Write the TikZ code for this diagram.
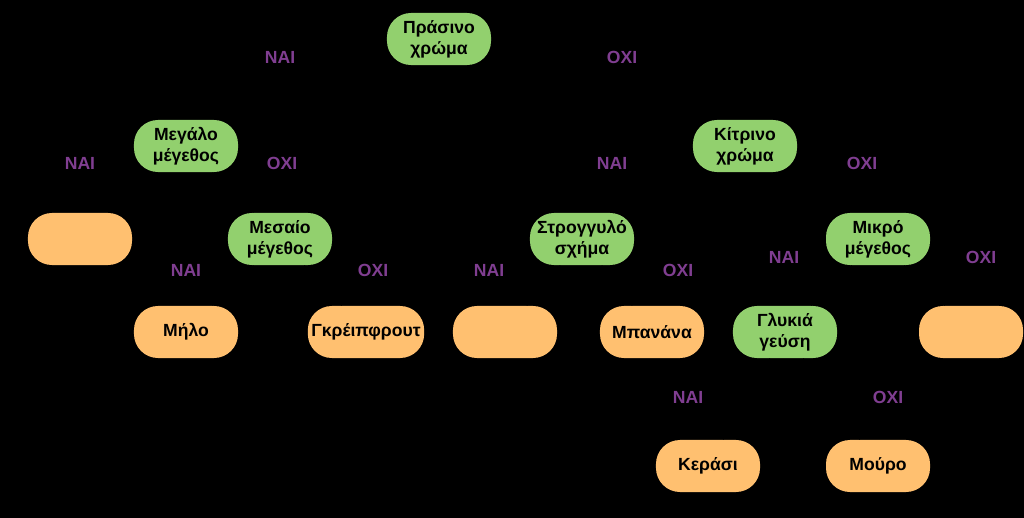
\documentclass[tikz,border=0pt]{standalone}
\usepackage{fontspec}
\setmainfont{Liberation Sans}
\usepackage{tikz}
\usetikzlibrary{positioning}

\definecolor{leafgreen}{RGB}{146,208,110}
\definecolor{fruitorange}{RGB}{255,192,112}
\definecolor{answerpurple}{RGB}{128,62,145}

\tikzset{
    question/.style={fill=leafgreen, rounded corners=0.6cm, minimum width=2.6cm,
        minimum height=1.3cm, inner xsep=2.5pt, align=center,
        font=\fontsize{12.5}{15}\selectfont\bfseries},
    fruit/.style={question, fill=fruitorange},
    reply/.style={text=answerpurple, font=\fontsize{12.5}{15}\selectfont\bfseries},
    link/.style={black, thin}
}

\begin{document}
\begin{tikzpicture}[x=0.025cm, y=-0.025cm]

% Background
\fill[black] (0,0) rectangle (1024,518);
\useasboundingbox (0,0) rectangle (1024,518);

% Questions
\node[question] (green) at (439,39) {Πράσινο\\χρώμα};
\node[question] (big) at (186,146) {Μεγάλο\\μέγεθος};
\node[question] (yellow) at (745,146) {Κίτρινο\\χρώμα};
\node[question] (medium) at (280,239) {Μεσαίο\\μέγεθος};
\node[question] (round) at (582,239) {Στρογγυλό\\σχήμα};
\node[question] (small) at (878,239) {Μικρό\\μέγεθος};
\node[question] (sweet) at (785,332) {Γλυκιά\\γεύση};

% Fruits
\node[fruit] (bigfruit) at (80,239) {};
\node[fruit] (apple) at (186,332) {Μήλο};
\node[fruit] (grapefruit) at (366,332) {Γκρέιπφρουτ};
\node[fruit] (roundfruit) at (505,332) {};
\node[fruit] (banana) at (652,332) {Μπανάνα};
\node[fruit] (otherfruit) at (971,332) {};
\node[fruit] (cherry) at (708,466) {Κεράσι};
\node[fruit] (mulberry) at (878,466) {Μούρο};

% Connectors
\draw[link] (green) -- (big);
\draw[link] (green) -- (yellow);
\draw[link] (big) -- (bigfruit);
\draw[link] (big) -- (medium);
\draw[link] (medium) -- (apple);
\draw[link] (medium) -- (grapefruit);
\draw[link] (yellow) -- (round);
\draw[link] (yellow) -- (small);
\draw[link] (round) -- (roundfruit);
\draw[link] (round) -- (banana);
\draw[link] (small) -- (sweet);
\draw[link] (small) -- (otherfruit);
\draw[link] (sweet) -- (cherry);
\draw[link] (sweet) -- (mulberry);

% Answers
\node[reply] (y1) at (280,57) {ΝΑΙ};
\node[reply] (n1) at (622,57) {ΟΧΙ};
\node[reply] (y2) at (80,163) {ΝΑΙ};
\node[reply] (n2) at (282,163) {ΟΧΙ};
\node[reply] (y3) at (612,163) {ΝΑΙ};
\node[reply] (n3) at (862,163) {ΟΧΙ};
\node[reply] (y4) at (186,270) {ΝΑΙ};
\node[reply] (n4) at (373,270) {ΟΧΙ};
\node[reply] (y5) at (489,270) {ΝΑΙ};
\node[reply] (n5) at (678,270) {ΟΧΙ};
\node[reply] (y6) at (784,257) {ΝΑΙ};
\node[reply] (n6) at (981,257) {ΟΧΙ};
\node[reply] (y7) at (688,397) {ΝΑΙ};
\node[reply] (n7) at (888,397) {ΟΧΙ};

\end{tikzpicture}
\end{document}
